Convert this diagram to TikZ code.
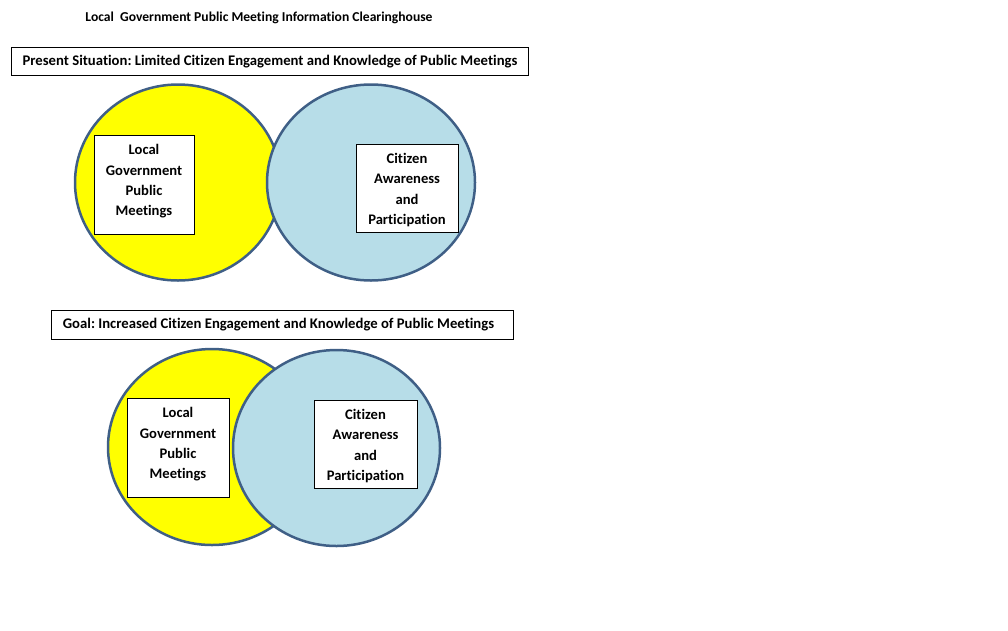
\documentclass[tikz,border=0pt]{standalone}
\usepackage{fontspec}
\setmainfont{Carlito}[Ligatures=NoCommon]
\frenchspacing
\definecolor{edge}{HTML}{3F5F86}
\definecolor{lblue}{HTML}{B7DDE8}
\definecolor{yel}{HTML}{FFFF00}
\usetikzlibrary{shapes.geometric}
\tikzset{
  gov/.style={ellipse, draw=edge, line width=2.5pt, fill=yel, inner sep=0pt},
  cit/.style={ellipse, draw=edge, line width=2.5pt, fill=lblue, inner sep=0pt},
  box/.style={draw=black, line width=0.8pt, fill=white, inner sep=0pt},
  lbl/.style={align=center, font=\fontsize{14.6}{20.3}\selectfont\bfseries, inner sep=0pt},
  headtxt/.style={font=\fontsize{14.7}{17}\selectfont\bfseries, inner sep=0pt},
}
\begin{document}
\begin{tikzpicture}[x=1pt,y=-1pt]
\useasboundingbox (0,0) rectangle (1008,630);
\node[font=\fontsize{13.6}{17}\selectfont\bfseries, inner sep=0pt] (title) at (259,17.5) {Local\ \ Government Public Meeting Information Clearinghouse};
\node[box, minimum width=517pt, minimum height=28pt] (h1) at (269.5,61) {};
\node[headtxt] (h1t) at (270,62) {\frenchspacing Present Situation: Limited Citizen Engagement and Knowledge of Public Meetings};
% top pair
\node[gov, minimum width=206pt, minimum height=196pt] (g1) at (178,182.5) {};
\node[cit, minimum width=208pt, minimum height=196pt] (c1) at (371,182.5) {};
\node[box, minimum width=100pt, minimum height=99pt] (gb1) at (144,184.5) {};
\node[lbl] (gt1) at (144,181.5) {Local\\Government\\Public\\Meetings};
\node[box, minimum width=102pt, minimum height=88pt] (cb1) at (407,188) {};
\node[lbl] (ct1) at (407,190) {Citizen\\Awareness\\and\\Participation};
% bottom
\node[box, minimum width=462pt, minimum height=29pt] (h2) at (282,324.5) {};
\node[headtxt] (h2t) at (278.5,325) {\frenchspacing Goal: Increased Citizen Engagement and Knowledge of Public Meetings};
\node[gov, minimum width=208pt, minimum height=196pt] (g2) at (212,447) {};
\node[cit, minimum width=207pt, minimum height=196pt] (c2) at (336.5,448) {};
\node[box, minimum width=102pt, minimum height=99pt] (gb2) at (178,447.5) {};
\node[lbl] (gt2) at (178,444.5) {Local\\Government\\Public\\Meetings};
\node[box, minimum width=103pt, minimum height=88pt] (cb2) at (365.5,444) {};
\node[lbl] (ct2) at (365.5,446) {Citizen\\Awareness\\and\\Participation};
\end{tikzpicture}
\end{document}
